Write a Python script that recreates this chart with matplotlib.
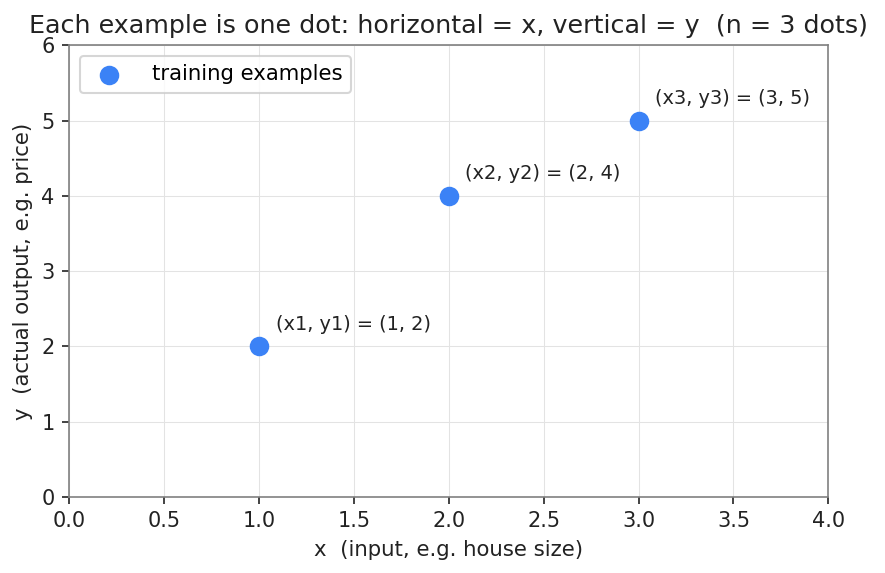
import matplotlib.pyplot as plt

xs = [1, 2, 3]
ys = [2, 4, 5]
labels = ["(x1, y1) = (1, 2)", "(x2, y2) = (2, 4)", "(x3, y3) = (3, 5)"]

plt.rcParams['font.family'] = ['DejaVu Sans']

fig = plt.figure(figsize=(5.9, 3.82), dpi=150)
ax = fig.add_axes([0.078, 0.133, 0.858, 0.788])

ax.scatter(xs, ys, s=70, color='#3b82f6', zorder=3, label='training examples')
for x, y, t in zip(xs, ys, labels):
    ax.annotate(t, (x, y), xytext=(8, 6), textcoords='offset points',
                fontsize=9.3, color='#222222', va='bottom')

ax.set_xlim(0, 4)
ax.set_ylim(0, 6)
ax.set_xticks([0, 0.5, 1, 1.5, 2, 2.5, 3, 3.5, 4])
ax.grid(True, color='#e3e3e3', linewidth=0.5)
ax.set_axisbelow(True)
for s in ax.spines.values():
    s.set_color('#808080')
ax.tick_params(colors='#222222', labelsize=10, length=3.5)
ax.set_xlabel('x  (input, e.g. house size)', fontsize=10.2, color='#222222')
ax.set_ylabel('y  (actual output, e.g. price)', fontsize=10.2, color='#222222')
ax.set_title('Each example is one dot: horizontal = x, vertical = y  (n = 3 dots)',
             fontsize=12.2, color='#222222')
ax.legend(loc='upper left', fontsize=10.2, edgecolor='#cccccc', handletextpad=1.0)

fig.savefig('out.png', dpi=150)
